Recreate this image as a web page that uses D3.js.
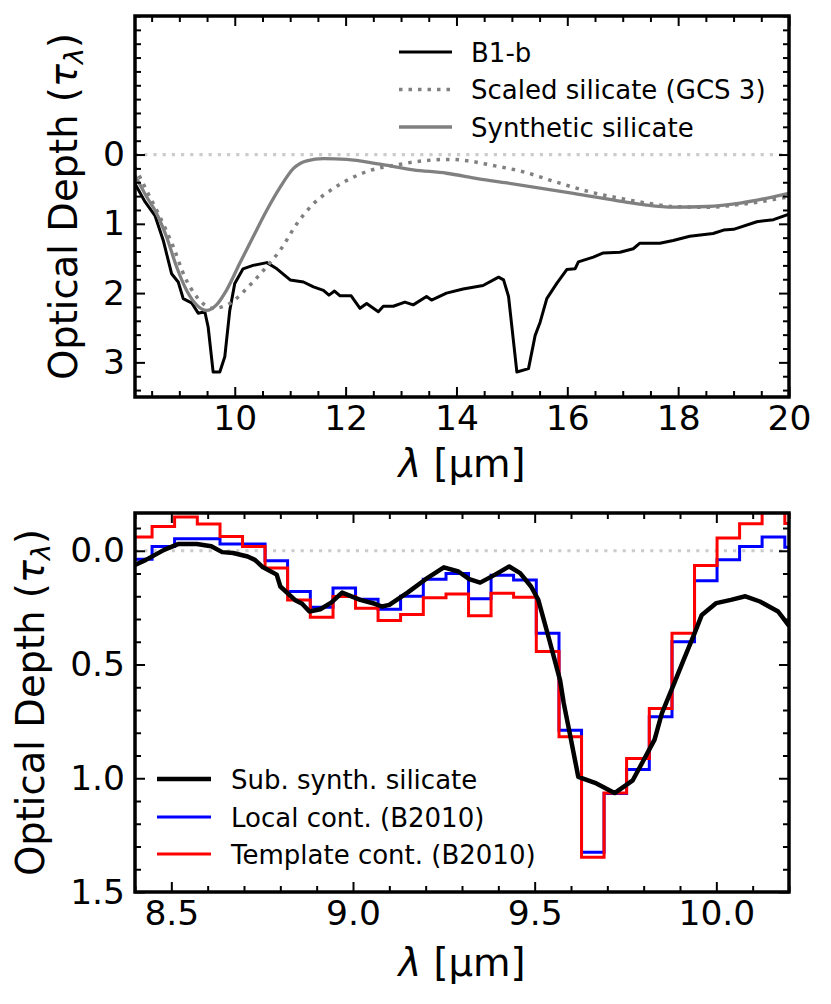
<!DOCTYPE html>
<html>
<head>
<meta charset="utf-8">
<script src="https://cdn.jsdelivr.net/npm/d3@7"></script>
<style>
  html, body { margin: 0; padding: 0; background: #fff; }
  svg { display: block; }
  text { font-family: "DejaVu Sans", sans-serif; fill: #000; }
</style>
</head>
<body>
<div id="chart"></div>
<script>
  // ---- top panel: B1-b spectrum vs silicate profiles ----
  const b1bX = [8.20, 8.38, 8.56, 8.71, 8.86, 8.98, 9.07, 9.22, 9.34, 9.46, 9.52, 9.61, 9.73, 9.82, 9.91, 10.00, 10.15, 10.33, 10.58, 10.76, 11.00, 11.24, 11.42, 11.60, 11.70, 11.80, 11.90, 12.10, 12.26, 12.38, 12.59, 12.68, 12.86, 13.07, 13.22, 13.46, 13.55, 13.82, 14.12, 14.48, 14.76, 14.85, 14.94, 15.09, 15.30, 15.42, 15.51, 15.63, 15.81, 15.99, 16.14, 16.20, 16.47, 16.65, 16.95, 17.19, 17.31, 17.67, 17.91, 18.21, 18.63, 18.82, 19.00, 19.42, 19.72, 20.00];
  const b1bTau = [0.42, 0.68, 0.88, 1.24, 1.72, 1.84, 2.08, 2.14, 2.29, 2.27, 2.49, 3.14, 3.14, 2.92, 2.25, 1.86, 1.65, 1.60, 1.56, 1.65, 1.81, 1.84, 1.91, 1.96, 2.03, 1.97, 2.04, 2.04, 2.22, 2.15, 2.27, 2.19, 2.19, 2.13, 2.17, 2.05, 2.10, 2.00, 1.94, 1.89, 1.77, 1.81, 2.05, 3.14, 3.09, 2.61, 2.42, 2.08, 1.86, 1.66, 1.65, 1.55, 1.48, 1.42, 1.41, 1.36, 1.28, 1.28, 1.24, 1.18, 1.14, 1.09, 1.08, 0.97, 0.94, 0.86];

  const gcsX = [8.20, 8.41, 8.65, 8.89, 9.10, 9.31, 9.61, 9.91, 10.22, 10.52, 10.82, 11.12, 11.42, 11.72, 12.08, 12.44, 12.92, 13.40, 13.88, 14.20, 14.61, 15.21, 15.81, 16.41, 17.01, 17.43, 17.91, 18.52, 19.12, 19.72, 20.00];
  const gcsTau = [0.18, 0.52, 0.90, 1.33, 1.77, 2.05, 2.22, 2.15, 1.93, 1.67, 1.38, 1.00, 0.71, 0.52, 0.35, 0.23, 0.15, 0.09, 0.07, 0.09, 0.15, 0.25, 0.40, 0.54, 0.64, 0.70, 0.75, 0.76, 0.72, 0.65, 0.61];

  const synX = [8.20, 8.41, 8.59, 8.77, 8.95, 9.13, 9.31, 9.49, 9.67, 9.85, 10.09, 10.33, 10.58, 10.82, 11.06, 11.30, 11.60, 12.02, 12.62, 13.22, 13.82, 14.40, 14.91, 16.11, 17.01, 17.43, 17.91, 18.52, 19.12, 19.72, 20.00];
  const synTau = [0.30, 0.61, 0.85, 1.19, 1.62, 1.96, 2.17, 2.25, 2.17, 1.96, 1.57, 1.19, 0.80, 0.47, 0.20, 0.09, 0.06, 0.07, 0.14, 0.22, 0.27, 0.35, 0.41, 0.56, 0.68, 0.73, 0.76, 0.75, 0.70, 0.61, 0.56];

  // ---- bottom panel: 9.7 micron region ----
  const subX = [8.40, 8.43, 8.48, 8.52, 8.57, 8.61, 8.64, 8.67, 8.71, 8.73, 8.75, 8.79, 8.80, 8.84, 8.86, 8.88, 8.91, 8.94, 8.97, 9.02, 9.06, 9.08, 9.10, 9.15, 9.20, 9.25, 9.29, 9.32, 9.35, 9.39, 9.43, 9.46, 9.49, 9.51, 9.54, 9.57, 9.58, 9.60, 9.62, 9.67, 9.72, 9.77, 9.80, 9.83, 9.85, 9.88, 9.91, 9.94, 9.96, 10.00, 10.04, 10.08, 10.12, 10.17, 10.20];
  const subTau = [0.062, 0.040, -0.004, -0.030, -0.030, -0.020, 0.006, 0.010, 0.025, 0.040, 0.070, 0.105, 0.157, 0.216, 0.233, 0.267, 0.257, 0.228, 0.184, 0.216, 0.233, 0.245, 0.238, 0.184, 0.125, 0.073, 0.091, 0.125, 0.140, 0.106, 0.069, 0.098, 0.157, 0.216, 0.390, 0.570, 0.670, 0.830, 0.994, 1.023, 1.065, 1.009, 0.920, 0.830, 0.715, 0.598, 0.480, 0.363, 0.282, 0.230, 0.216, 0.200, 0.223, 0.267, 0.330];

  // bin centres shared by both continuum choices (drawn as mid steps)
  const binX = [8.354, 8.416, 8.478, 8.540, 8.603, 8.665, 8.727, 8.789, 8.851, 8.914, 8.976, 9.038, 9.100, 9.162, 9.225, 9.287, 9.349, 9.411, 9.473, 9.536, 9.598, 9.660, 9.722, 9.784, 9.847, 9.909, 9.971, 10.033, 10.095, 10.157, 10.220];
  const localTau = [0.037, 0.037, -0.019, -0.053, -0.053, -0.030, -0.030, 0.044, 0.179, 0.248, 0.164, 0.213, 0.257, 0.200, 0.125, 0.100, 0.211, 0.108, 0.128, 0.363, 0.789, 1.325, 1.067, 0.962, 0.730, 0.400, 0.132, 0.040, -0.019, -0.060, -0.015];
  const templateTau = [-0.060, -0.060, -0.107, -0.148, -0.118, -0.063, -0.019, 0.076, 0.216, 0.292, 0.201, 0.253, 0.306, 0.280, 0.206, 0.190, 0.286, 0.187, 0.204, 0.443, 0.818, 1.347, 1.065, 0.913, 0.693, 0.363, 0.065, -0.056, -0.119, -0.173, -0.120];

  const topXTicks = [10, 12, 14, 16, 18, 20];
  const topYTicks = [0, 1, 2, 3];
  const botXTicks = [8.5, 9.0, 9.5, 10.0];
  const botYTicks = [0.0, 0.5, 1.0, 1.5];

  const topLegend = ['B1-b', 'Scaled silicate (GCS 3)', 'Synthetic silicate'];
  const botLegend = ['Sub. synth. silicate', 'Local cont. (B2010)', 'Template cont. (B2010)'];

  const W = 831, H = 1004;
  const FONT_TICK = 34.5, FONT_LABEL = 38.5, FONT_LEG = 26;

  const svg = d3.select('#chart').append('svg')
    .attr('width', W).attr('height', H)
    .attr('viewBox', `0 0 ${W} ${H}`);

  const zip = (xs, ys) => xs.map((x, i) => [x, ys[i]]);

  function panel(id, xDom, yDom, box, xTicks, yTicks, xMinorStep, yMinorStep, fmtX, fmtY) {
    const x = d3.scaleLinear().domain(xDom).range([box.left, box.right]);
    const y = d3.scaleLinear().domain(yDom).range([box.top, box.bottom]);
    const g = svg.append('g');

    g.append('clipPath').attr('id', id)
      .append('rect')
      .attr('x', box.left).attr('y', box.top)
      .attr('width', box.right - box.left).attr('height', box.bottom - box.top);

    const plot = g.append('g').attr('clip-path', `url(#${id})`);

    const near = (a, list) => list.some(b => Math.abs(a - b) < 1e-6);
    const xMinor = d3.range(Math.ceil(xDom[0] / xMinorStep - 1e-6) * xMinorStep, xDom[1] + 1e-9, xMinorStep)
      .filter(v => !near(v, xTicks));
    const yMinor = d3.range(Math.ceil(yDom[0] / yMinorStep - 1e-6) * yMinorStep, yDom[1] + 1e-9, yMinorStep)
      .filter(v => !near(v, yTicks));

    const tidy = sel => {
      sel.select('.domain').remove();
      sel.selectAll('line').attr('stroke', '#000').attr('stroke-width', 2);
      sel.attr('font-family', null).attr('font-size', null);
      sel.selectAll('text').attr('font-size', FONT_TICK);
    };

    // major + minor ticks on all four sides, pointing inwards
    g.append('g').attr('transform', `translate(0,${box.bottom})`)
      .call(d3.axisBottom(x).tickValues(xTicks).tickFormat(fmtX).tickSize(-10).tickPadding(9)).call(tidy);
    g.append('g').attr('transform', `translate(0,${box.bottom})`)
      .call(d3.axisBottom(x).tickValues(xMinor).tickFormat('').tickSize(-6)).call(tidy);
    g.append('g').attr('transform', `translate(0,${box.top})`)
      .call(d3.axisTop(x).tickValues(xTicks).tickFormat('').tickSize(-10)).call(tidy);
    g.append('g').attr('transform', `translate(0,${box.top})`)
      .call(d3.axisTop(x).tickValues(xMinor).tickFormat('').tickSize(-6)).call(tidy);

    g.append('g').attr('transform', `translate(${box.left},0)`)
      .call(d3.axisLeft(y).tickValues(yTicks).tickFormat(fmtY).tickSize(-10).tickPadding(10)).call(tidy);
    g.append('g').attr('transform', `translate(${box.left},0)`)
      .call(d3.axisLeft(y).tickValues(yMinor).tickFormat('').tickSize(-6)).call(tidy);
    g.append('g').attr('transform', `translate(${box.right},0)`)
      .call(d3.axisRight(y).tickValues(yTicks).tickFormat('').tickSize(-10)).call(tidy);
    g.append('g').attr('transform', `translate(${box.right},0)`)
      .call(d3.axisRight(y).tickValues(yMinor).tickFormat('').tickSize(-6)).call(tidy);

    // zero level
    plot.append('path')
      .datum(xDom.map(v => [v, 0]))
      .attr('d', d3.line().x(d => x(d[0])).y(d => y(d[1])))
      .attr('fill', 'none').attr('stroke', '#cccccc').attr('stroke-width', 3.2)
      .attr('stroke-dasharray', '3.2,6');

    return { g, plot, x, y, box };
  }

  function frame(p) {
    p.g.append('rect')
      .attr('x', p.box.left).attr('y', p.box.top)
      .attr('width', p.box.right - p.box.left).attr('height', p.box.bottom - p.box.top)
      .attr('fill', 'none').attr('stroke', '#000').attr('stroke-width', 3.5);
  }

  function xLabel(p, baseline) {
    const t = svg.append('text')
      .attr('x', (p.box.left + p.box.right) / 2).attr('y', baseline)
      .attr('text-anchor', 'middle').attr('font-size', FONT_LABEL);
    t.append('tspan').attr('font-style', 'italic').text('λ');
    t.append('tspan').text(' [µm]');
  }

  function yLabel(p, baselineX) {
    const cy = (p.box.top + p.box.bottom) / 2;
    const t = svg.append('text')
      .attr('transform', `translate(${baselineX},${cy}) rotate(-90)`)
      .attr('text-anchor', 'middle').attr('font-size', FONT_LABEL);
    t.append('tspan').text('Optical Depth (');
    t.append('tspan').attr('font-style', 'italic').text('τ');
    t.append('tspan').attr('font-style', 'italic').attr('font-size', FONT_LABEL * 0.7).attr('dy', 6).text('λ');
    t.append('tspan').attr('dy', -6).text(')');
  }

  function legend(items, x0, x1, tx, ys) {
    const lg = svg.append('g');
    items.forEach((it, i) => {
      const l = lg.append('line')
        .attr('x1', x0).attr('x2', x1).attr('y1', ys[i]).attr('y2', ys[i])
        .attr('stroke', it.color).attr('stroke-width', it.width);
      if (it.dash) l.attr('stroke-dasharray', it.dash);
      lg.append('text').attr('x', tx).attr('y', ys[i] + 9.5)
        .attr('font-size', FONT_LEG).text(it.label);
    });
  }

  // ================= top panel =================
  const topP = panel('clipTop', [8.2, 20], [-2, 3.5],
    { left: 135, right: 789, top: 16, bottom: 397 },
    topXTicks, topYTicks, 0.5, 0.2, d3.format('d'), d3.format('d'));

  const lineTop = curve => d3.line().x(d => topP.x(d[0])).y(d => topP.y(d[1])).curve(curve);

  topP.plot.append('path').datum(zip(b1bX, b1bTau))
    .attr('d', lineTop(d3.curveLinear))
    .attr('fill', 'none').attr('stroke', '#000').attr('stroke-width', 3).attr('stroke-linejoin', 'round');
  topP.plot.append('path').datum(zip(gcsX, gcsTau))
    .attr('d', lineTop(d3.curveMonotoneX))
    .attr('fill', 'none').attr('stroke', '#808080').attr('stroke-width', 3.5)
    .attr('stroke-dasharray', '3.5,6');
  topP.plot.append('path').datum(zip(synX, synTau))
    .attr('d', lineTop(d3.curveMonotoneX))
    .attr('fill', 'none').attr('stroke', '#808080').attr('stroke-width', 3.3);

  frame(topP);
  xLabel(topP, 477);
  yLabel(topP, 77);
  legend([
    { label: topLegend[0], color: '#000', width: 3 },
    { label: topLegend[1], color: '#808080', width: 3.5, dash: '3.5,6' },
    { label: topLegend[2], color: '#808080', width: 3.3 }
  ], 399, 452, 471, [52, 89.5, 127]);

  // ================= bottom panel =================
  const botP = panel('clipBot', [8.4, 10.2], [-0.166, 1.5],
    { left: 135, right: 789, top: 513, bottom: 892 },
    botXTicks, botYTicks, 0.1, 0.1, d3.format('.1f'), d3.format('.1f'));

  const lineBot = curve => d3.line().x(d => botP.x(d[0])).y(d => botP.y(d[1])).curve(curve);

  botP.plot.append('path').datum(zip(binX, localTau))
    .attr('d', lineBot(d3.curveStep))
    .attr('fill', 'none').attr('stroke', '#0000ff').attr('stroke-width', 3);
  botP.plot.append('path').datum(zip(binX, templateTau))
    .attr('d', lineBot(d3.curveStep))
    .attr('fill', 'none').attr('stroke', '#ff0000').attr('stroke-width', 3);
  botP.plot.append('path').datum(zip(subX, subTau))
    .attr('d', lineBot(d3.curveLinear))
    .attr('fill', 'none').attr('stroke', '#000').attr('stroke-width', 4.5).attr('stroke-linejoin', 'round');

  frame(botP);
  xLabel(botP, 976);
  yLabel(botP, 44);
  legend([
    { label: botLegend[0], color: '#000', width: 4.5 },
    { label: botLegend[1], color: '#0000ff', width: 3 },
    { label: botLegend[2], color: '#ff0000', width: 3 }
  ], 157, 211, 231, [779, 817, 854]);
</script>
</body>
</html>
